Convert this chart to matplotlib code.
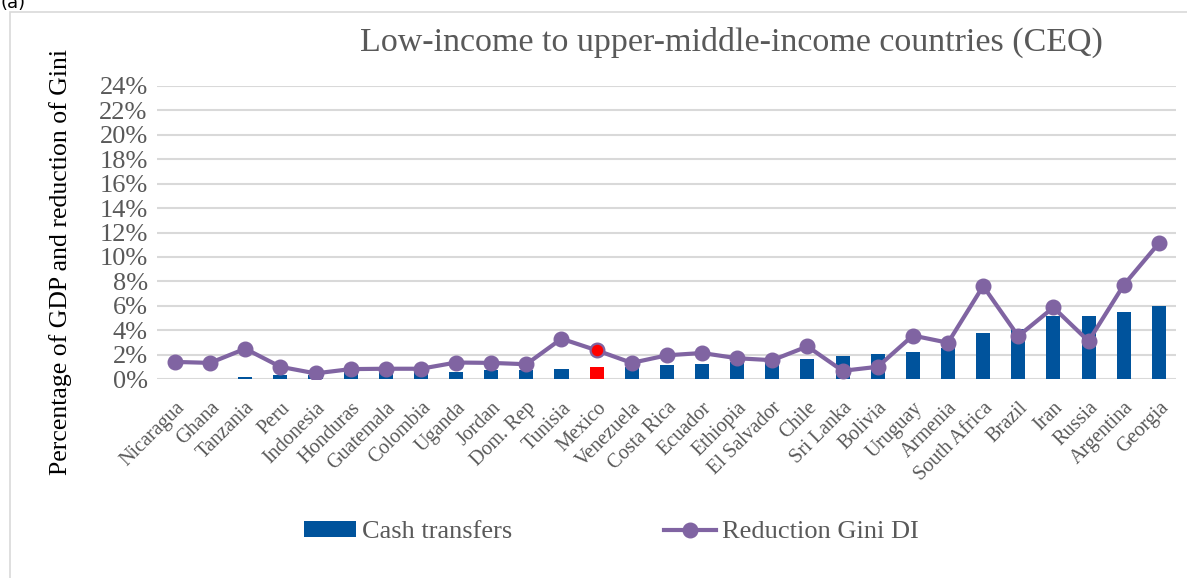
import matplotlib.pyplot as plt
import matplotlib.patches as mpatches
import numpy as np

plt.rcParams['font.family'] = ['Liberation Serif', 'DejaVu Serif']

countries = ["Nicaragua", "Ghana", "Tanzania", "Peru", "Indonesia", "Honduras",
             "Guatemala", "Colombia", "Uganda", "Jordan", "Dom. Rep", "Tunisia",
             "Mexico", "Venezuela", "Costa Rica", "Ecuador", "Ethiopia",
             "El Salvador", "Chile", "Sri Lanka", "Bolivia", "Uruguay", "Armenia",
             "South Africa", "Brazil", "Iran", "Russia", "Argentina", "Georgia"]
# cash transfers, % of GDP
cash = [0.02, 0.02, 0.15, 0.32, 0.30, 0.55, 0.55, 0.55, 0.54, 0.70, 0.75, 0.81,
        1.00, 1.00, 1.16, 1.21, 1.40, 1.40, 1.62, 1.92, 2.02, 2.24, 2.57,
        3.75, 4.10, 5.18, 5.20, 5.48, 6.02]
# reduction of Gini (disposable income), %
gini = [1.40, 1.32, 2.48, 1.00, 0.46, 0.81, 0.84, 0.84, 1.35, 1.32, 1.21, 3.30,
        2.35, 1.32, 1.94, 2.13, 1.70, 1.54, 2.67, 0.67, 1.00, 3.56, 2.97,
        7.61, 3.51, 5.86, 3.10, 7.69, 11.12]
highlight = "Mexico"

blue = "#00539C"
purple = "#8064A2"
grey = "#595959"

fig = plt.figure(figsize=(11.87, 5.78), dpi=100)
ax = fig.add_axes([157.4 / 1187, 1 - 379 / 578, 1019 / 1187, 293 / 578])

x = np.arange(len(countries))
cash_f = np.array(cash) / 100
gini_f = np.array(gini) / 100
bar_cols = ["red" if c == highlight else blue for c in countries]
bars = ax.bar(x, cash_f, width=0.4, color=bar_cols, label="Cash transfers", zorder=2)
line, = ax.plot(x, gini_f, color=purple, lw=3, marker="o", ms=10.5,
                label="Reduction Gini DI", zorder=3)
i = countries.index(highlight)
ax.plot(x[i], gini_f[i], marker="o", ms=9.5, mfc="red", mec=purple, mew=1.2,
        ls="none", zorder=4)

ax.set_xlim(-0.5, len(countries) - 0.5)
ax.set_ylim(0, 0.24)
yt = np.arange(0, 0.25, 0.02)
ax.set_yticks(yt)
ax.set_yticklabels([f"{int(round(v * 100))}%" for v in yt], fontsize=19, color=grey)
ax.set_xticks(x)
ax.set_xticklabels(countries, rotation=45, ha="right", rotation_mode="anchor",
                   fontsize=14.5, color=grey)
ax.tick_params(axis="both", length=0)
ax.tick_params(axis="y", pad=7)
ax.tick_params(axis="x", pad=14)
ax.grid(axis="y", color="#D9D9D9", lw=1.5, zorder=0)
ax.set_axisbelow(True)
for s in ax.spines.values():
    s.set_visible(False)

ax.set_ylabel("Percentage of GDP and reduction of Gini", fontsize=18.5, color="black")
ax.yaxis.set_label_coords(-0.084, 0.40)

fig.text(0.616, 1 - 42 / 578, "Low-income to upper-middle-income countries (CEQ)",
         fontsize=24.5, color=grey, ha="center", va="center")

fig.legend(handles=[bars.patches[0], line], labels=["Cash transfers", "Reduction Gini DI"],
           loc="center", bbox_to_anchor=(0.515, 1 - 532 / 578), ncol=2,
           frameon=False, fontsize=19, labelcolor=grey, handlelength=1.97,
           handleheight=0.57, handletextpad=0.23, columnspacing=5.75)

# outer frame of the chart
fig.patches.append(mpatches.Rectangle((10 / 1187, -0.1), 1.2, 1 - 12 / 578 + 0.1,
                                      transform=fig.transFigure, fill=False,
                                      ec="#D9D9D9", lw=1.2))
fig.text(0.0, 1 - 3 / 578, "(a)", family="DejaVu Sans", fontsize=13,
         ha="left", va="center")

fig.savefig("out.png", dpi=100)
